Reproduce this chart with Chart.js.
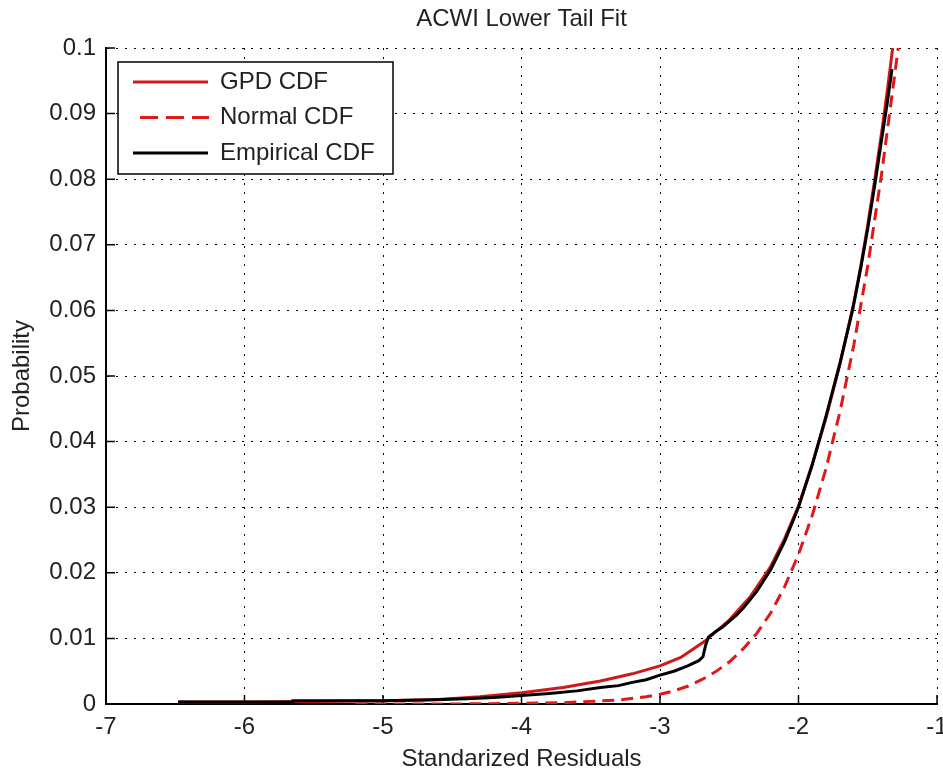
<!DOCTYPE html>
<html>
<head>
<meta charset="utf-8">
<script src="https://cdn.jsdelivr.net/npm/chart.js@4/dist/chart.umd.min.js"></script>
<style>
html,body{margin:0;padding:0;background:#fff;overflow:hidden;}
#wrap{width:943px;height:776px;}
</style>
</head>
<body>
<div id="wrap"><canvas id="c" width="943" height="776"></canvas></div>
<script>
// ---------- data ----------
const chartTitle = 'ACWI Lower Tail Fit';
const xAxisLabel = 'Standarized Residuals';
const yAxisLabel = 'Probability';
const seriesNames = ['GPD CDF', 'Normal CDF', 'Empirical CDF'];

const xTicks = [-7, -6, -5, -4, -3, -2, -1];
const yTicks = [0, 0.01, 0.02, 0.03, 0.04, 0.05, 0.06, 0.07, 0.08, 0.09, 0.1];

const gpdX = [-6.48, -6.0, -5.5, -5.0, -4.6, -4.3, -4.0, -3.7, -3.43, -3.2, -3.0, -2.85, -2.675, -2.5, -2.35, -2.2, -2.1, -2.0, -1.9, -1.8, -1.7, -1.6, -1.55, -1.5, -1.45, -1.4, -1.36, -1.32];
const gpdY = [0.0003, 0.0003, 0.0004, 0.0005, 0.0007, 0.0011, 0.0017, 0.0025, 0.0035, 0.0046, 0.0058, 0.0071, 0.0096, 0.0128, 0.0163, 0.0210, 0.0252, 0.0302, 0.0366, 0.0437, 0.0519, 0.0612, 0.0668, 0.0730, 0.0799, 0.0871, 0.0933, 0.1000];

const normX = [-5.2, -4.5, -4.0, -3.7, -3.5, -3.3, -3.1, -3.0, -2.9, -2.8, -2.7, -2.6, -2.5, -2.4, -2.3, -2.2, -2.1, -2.0, -1.9, -1.8, -1.7, -1.6, -1.5, -1.4, -1.3, -1.28];
const normY = [0.0, 0.0, 0.0001, 0.0002, 0.0004, 0.0006, 0.0011, 0.0015, 0.0020, 0.0027, 0.0037, 0.0049, 0.0064, 0.0084, 0.0108, 0.0139, 0.0179, 0.0228, 0.0288, 0.0360, 0.0446, 0.0548, 0.0668, 0.0808, 0.0968, 0.1000];

const empX = [-6.48, -5.65, -5.65, -5.0, -4.7, -4.4, -4.2, -4.0, -3.8, -3.6, -3.43, -3.3, -3.2, -3.1, -3.0, -2.9, -2.8, -2.72, -2.69, -2.67, -2.65, -2.6, -2.55, -2.5, -2.45, -2.4, -2.3, -2.2, -2.1, -2.0, -1.9, -1.8, -1.7, -1.61, -1.55, -1.5, -1.45, -1.4, -1.36, -1.325];
const empY = [0.0003, 0.0003, 0.0005, 0.0005, 0.0006, 0.0008, 0.0010, 0.0013, 0.0016, 0.0020, 0.0025, 0.0028, 0.0033, 0.0037, 0.0044, 0.0050, 0.0058, 0.0066, 0.0072, 0.0090, 0.0102, 0.0110, 0.0117, 0.0126, 0.0135, 0.0146, 0.0172, 0.0205, 0.0248, 0.0300, 0.0365, 0.0440, 0.0520, 0.0600, 0.0665, 0.0725, 0.0790, 0.0860, 0.0915, 0.0968];

// ---------- styling ----------
const FONT = "'Liberation Sans', Arial, Helvetica, sans-serif";
const TEXT_COLOR = '#222';
const GPD_COLOR = '#d01818';
const NORM_COLOR = '#e01818';
const EMP_COLOR = '#000000';
const DASH = [12, 7];

Chart.defaults.font.family = FONT;
Chart.defaults.color = TEXT_COLOR;

const toPts = (xs, ys) => xs.map((x, i) => ({ x: x, y: ys[i] }));

// dashed legend sample (a small canvas used as the legend point style)
function dashedSample(color) {
  const cv = document.createElement('canvas');
  cv.width = 77; cv.height = 5;
  const g = cv.getContext('2d');
  g.strokeStyle = color; g.lineWidth = 3;
  g.setLineDash([18, 8]); g.lineDashOffset = 18;
  g.beginPath(); g.moveTo(0, 2.5); g.lineTo(77, 2.5); g.stroke();
  return cv;
}

// legend geometry (style only)
const LEG = { left: 121.5, top: 58.5, frameDx: -3.5, frameDy: 3.5, frameW: 275, frameH: 112 };

const legendPlacer = {
  id: 'legendPlacer',
  afterLayout(chart) {
    const lg = chart.legend;
    if (!lg) return;
    const w = lg.width;
    lg.left = LEG.left; lg.top = LEG.top;
    lg.right = LEG.left + w; lg.bottom = LEG.top + 400;
    if (!lg.__framed) {
      const orig = lg.draw;
      lg.draw = function () {
        const ctx = this.ctx;
        ctx.save();
        const fx = this.left + LEG.frameDx, fy = this.top + LEG.frameDy;
        ctx.fillStyle = '#ffffff';
        ctx.fillRect(fx, fy, LEG.frameW, LEG.frameH);
        ctx.strokeStyle = '#000';
        ctx.lineWidth = 1.5;
        ctx.strokeRect(fx, fy, LEG.frameW, LEG.frameH);
        ctx.restore();
        return orig.apply(this, arguments);
      };
      lg.__framed = true;
    }
  }
};

const innerTicks = {
  id: 'innerTicks',
  beforeDatasetsDraw(chart) {
    const { ctx, chartArea: a, scales } = chart;
    const xs = scales.x, ys = scales.y;
    ctx.save();
    ctx.strokeStyle = '#000';
    ctx.lineWidth = 1.5;
    ctx.beginPath();
    ys.ticks.forEach(t => {
      const py = ys.getPixelForValue(t.value);
      ctx.moveTo(a.left, py); ctx.lineTo(a.left + 9, py);
    });
    xs.ticks.forEach(t => {
      const px = xs.getPixelForValue(t.value);
      ctx.moveTo(px, a.bottom); ctx.lineTo(px, a.bottom - 9);
    });
    ctx.stroke();
    ctx.restore();
  }
};

new Chart(document.getElementById('c'), {
  type: 'scatter',
  data: {
    datasets: [
      { label: seriesNames[0], data: toPts(gpdX, gpdY), showLine: true, borderColor: GPD_COLOR, backgroundColor: GPD_COLOR,
        borderWidth: 3, pointRadius: 0, pointHoverRadius: 0, pointStyle: 'line', tension: 0, fill: false, order: 3 },
      { label: seriesNames[1], data: toPts(normX, normY), showLine: true, borderColor: NORM_COLOR, backgroundColor: NORM_COLOR,
        borderWidth: 3, borderDash: DASH, pointRadius: 0, pointHoverRadius: 0, pointStyle: dashedSample(NORM_COLOR),
        tension: 0, fill: false, order: 2 },
      { label: seriesNames[2], data: toPts(empX, empY), showLine: true, borderColor: EMP_COLOR, backgroundColor: EMP_COLOR,
        borderWidth: 3, pointRadius: 0, pointHoverRadius: 0, pointStyle: 'line', tension: 0, fill: false, order: 1 }
    ]
  },
  options: {
    responsive: false,
    animation: false,
    devicePixelRatio: 1,
    layout: { padding: { left: 0, right: 6, top: 0, bottom: 0 } },
    plugins: {
      tooltip: { enabled: false },
      title: {
        display: true, text: chartTitle, fullSize: false, color: TEXT_COLOR,
        font: { size: 24, weight: 'normal', family: FONT },
        padding: { top: 4.6, bottom: 14.6 }
      },
      legend: {
        display: true, position: 'chartArea', align: 'start',
        labels: {
          usePointStyle: true, pointStyleWidth: 75,
          padding: 11.5, color: TEXT_COLOR,
          font: { size: 24, family: FONT },
          sort: (a, b) => a.datasetIndex - b.datasetIndex
        }
      }
    },
    scales: {
      x: {
        type: 'linear', min: -7, max: -1,
        afterBuildTicks: s => { s.ticks = xTicks.map(v => ({ value: v })); },
        afterFit: s => { s.height = 72; s.paddingLeft = 0; s.paddingRight = 0; },
        ticks: { autoSkip: false, maxRotation: 0, padding: 9, color: TEXT_COLOR, font: { size: 24 },
                 callback: v => String(v) },
        grid: { color: '#000', lineWidth: 1, drawTicks: false },
        border: { display: true, color: '#000', width: 2, dash: [2, 7] },
        title: { display: true, text: xAxisLabel, color: TEXT_COLOR, font: { size: 24 }, padding: { top: 0, bottom: 2.6 } }
      },
      y: {
        type: 'linear', min: 0, max: 0.1,
        afterBuildTicks: s => { s.ticks = yTicks.map(v => ({ value: v })); },
        afterFit: s => { s.width = 106; s.paddingTop = 0; s.paddingBottom = 0; },
        ticks: { autoSkip: false, padding: 10, color: TEXT_COLOR, font: { size: 24 },
                 callback: v => String(parseFloat(Number(v).toFixed(4))) },
        grid: { color: '#000', lineWidth: 1, drawTicks: false },
        border: { display: true, color: '#000', width: 2, dash: [2, 7] },
        title: { display: true, text: yAxisLabel, color: TEXT_COLOR, font: { size: 24 }, padding: { top: 7.6, bottom: 0 } }
      }
    }
  },
  plugins: [legendPlacer, innerTicks]
});
</script>
</body>
</html>
